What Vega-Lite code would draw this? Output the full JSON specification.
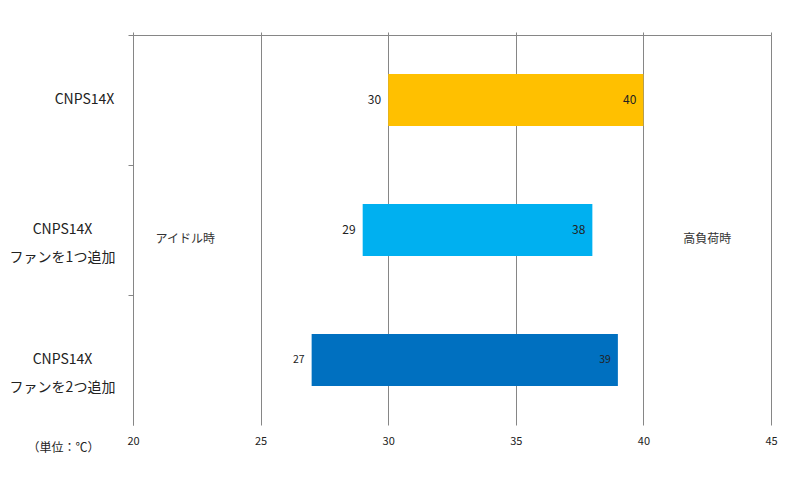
{
  "$schema": "https://vega.github.io/schema/vega-lite/v6.json",
  "autosize": "none",
  "width": 638,
  "height": 390,
  "padding": {"left": 133, "top": 35, "right": 29, "bottom": 61},
  "background": "white",
  "config": {
    "font": "Noto Sans CJK JP",
    "view": {"stroke": null},
    "axis": {"domainColor": "#868686", "tickColor": "#868686", "gridColor": "#868686", "labelColor": "#222", "titleColor": "#222"}
  },
  "datasets": {
    "temps": [
      {"model": "CNPS14X", "idle": 30, "load": 40},
      {"model": "CNPS14X\nファンを1つ追加", "idle": 29, "load": 38},
      {"model": "CNPS14X\nファンを2つ追加", "idle": 27, "load": 39}
    ],
    "notes": [
      {"model": "CNPS14X\nファンを1つ追加", "temp": 22.05, "label": "アイドル時"},
      {"model": "CNPS14X\nファンを1つ追加", "temp": 42.5, "label": "高負荷時"}
    ]
  },
  "resolve": {"axis": {"x": "independent", "y": "independent"}},
  "layer": [
    {
      "data": {"name": "temps"},
      "mark": {"type": "bar", "height": {"band": 0.4}},
      "encoding": {
        "y": {
          "field": "model", "type": "nominal", "sort": null,
          "scale": {"paddingInner": 0, "paddingOuter": 0},
          "axis": {
            "orient": "left", "title": null, "domain": false, "ticks": false,
            "labelAlign": "center", "labelBaseline": "middle",
            "labelPadding": {"condition": {"test": "datum.value === 'CNPS14X'", "value": 49}, "value": 71},
            "labelFontSize": 14, "labelLineHeight": 28,
            "labelExpr": "split(datum.label, '\\n')"
          }
        },
        "x": {
          "field": "idle", "type": "quantitative",
          "scale": {"domain": [20, 45], "nice": false, "zero": false},
          "axis": {
            "orient": "bottom", "values": [20, 25, 30, 35, 40, 45],
            "domain": false, "ticks": false, "grid": false, "labelFlush": false,
            "labelFontSize": 11, "labelPadding": 10, "labelBaseline": "top",
            "title": "（単位：℃）", "titleFontSize": 12, "titleFontWeight": "normal",
            "titleAnchor": "start", "titleAlign": "center", "titleBaseline": "middle",
            "titleX": -70, "titleY": 22
          }
        },
        "x2": {"field": "load"},
        "color": {
          "field": "model", "type": "nominal", "legend": null,
          "scale": {
            "domain": ["CNPS14X", "CNPS14X\nファンを1つ追加", "CNPS14X\nファンを2つ追加"],
            "range": ["#FFC000", "#00B0F0", "#0070C0"]
          }
        }
      }
    },
    {
      "data": {"name": "temps"},
      "mark": {"type": "text", "align": "right", "baseline": "middle", "dx": -7, "color": "#222"},
      "encoding": {
        "y": {
          "field": "model", "type": "nominal", "sort": null,
          "axis": {
            "orient": "left", "title": null, "labels": false,
            "domain": true, "ticks": true, "tickSize": 5, "bandPosition": 0
          }
        },
        "x": {
          "field": "idle", "type": "quantitative",
          "axis": {
            "orient": "top", "values": [20, 25, 30, 35, 40, 45],
            "labels": false, "domain": true, "ticks": true, "tickSize": 3,
            "grid": true, "gridOpacity": 1, "title": null
          }
        },
        "text": {"field": "idle"},
        "size": {"condition": {"test": "datum.idle === 27", "value": 10.5}, "value": 12}
      }
    },
    {
      "data": {"name": "temps"},
      "mark": {"type": "text", "align": "right", "baseline": "middle", "dx": -7, "color": "#222"},
      "encoding": {
        "y": {"field": "model", "type": "nominal", "sort": null, "axis": null},
        "x": {"field": "load", "type": "quantitative", "axis": null},
        "text": {"field": "load"},
        "size": {"condition": {"test": "datum.load === 39", "value": 10.5}, "value": 12}
      }
    },
    {
      "data": {"name": "notes"},
      "mark": {"type": "text", "align": "center", "baseline": "middle", "dy": 9, "fontSize": 12, "color": "#333"},
      "encoding": {
        "y": {"field": "model", "type": "nominal", "sort": null, "axis": null},
        "x": {"field": "temp", "type": "quantitative", "axis": null},
        "text": {"field": "label"}
      }
    }
  ]
}
